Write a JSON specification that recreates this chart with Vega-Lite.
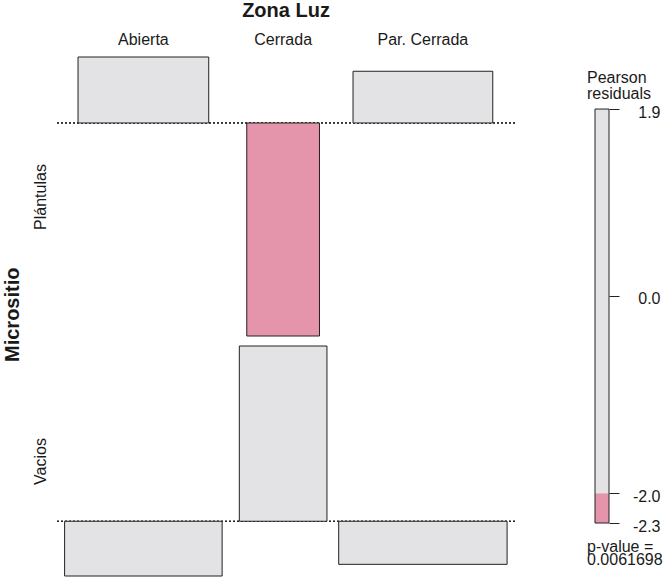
{
  "$schema": "https://vega.github.io/schema/vega-lite/v6.json",
  "padding": {"left": 2, "top": 1, "right": 0, "bottom": 0},
  "config": {
    "view": {"stroke": null},
    "font": "Liberation Sans",
    "title": {"font": "Liberation Sans", "color": "#1a1a1a"},
    "axis": {
      "labelFont": "Liberation Sans",
      "titleFont": "Liberation Sans",
      "labelColor": "#1a1a1a",
      "titleColor": "#1a1a1a",
      "grid": false,
      "domain": false,
      "ticks": false,
      "tickSize": 0,
      "labels": false
    }
  },
  "datasets": {
    "residuos": [
      {"zona": "Abierta", "micrositio": "Plántulas", "esperado": 17.126, "residuo": 0.713},
      {"zona": "Cerrada", "micrositio": "Plántulas", "esperado": 5.301, "residuo": -2.302},
      {"zona": "Par. Cerrada", "micrositio": "Plántulas", "esperado": 19.573, "residuo": 0.559},
      {"zona": "Abierta", "micrositio": "Vacios", "esperado": 24.874, "residuo": -0.591},
      {"zona": "Cerrada", "micrositio": "Vacios", "esperado": 7.699, "residuo": 1.892},
      {"zona": "Par. Cerrada", "micrositio": "Vacios", "esperado": 28.427, "residuo": -0.465}
    ],
    "sombreado": [
      {"desde": -2.302, "hasta": -2.0},
      {"desde": -2.0, "hasta": 1.892}
    ]
  },
  "bounds": "flush",
  "spacing": 538,
  "resolve": {"scale": {"color": "shared", "y": "independent"}},
  "hconcat": [
    {
      "data": {"name": "residuos"},
      "title": {
        "text": "Micrositio",
        "orient": "left",
        "anchor": "middle",
        "fontSize": 20,
        "fontWeight": "bold",
        "offset": 9,
        "dx": -26
      },
      "bounds": "flush",
      "spacing": 10,
      "resolve": {"scale": {"color": "shared", "size": "shared", "x": "shared", "y": "independent"}},
      "vconcat": [
        {
          "title": {"text": "Zona Luz", "fontSize": 20, "fontWeight": "bold", "anchor": "middle", "offset": 10},
          "width": 458,
          "height": 279,
          "transform": [{"filter": "datum.micrositio === 'Plántulas'"}],
          "layer": [
            {
              "mark": {"type": "rule", "strokeDash": [2, 2], "color": "#222222", "strokeWidth": 1},
              "encoding": {
                "y": {
                  "datum": 0,
                  "type": "quantitative",
                  "scale": {"domain": [-2.302, 0.713], "nice": false, "zero": false},
                  "axis": {"title": "Plántulas", "titleFontSize": 16, "titleFontWeight": "normal", "titlePadding": 9}
                }
              }
            },
            {
              "mark": {"type": "bar", "stroke": "#222222", "strokeWidth": 1},
              "encoding": {
                "x": {
                  "field": "zona",
                  "type": "nominal",
                  "sort": ["Abierta", "Cerrada", "Par. Cerrada"],
                  "scale": {"paddingInner": 0, "paddingOuter": 0.1385, "align": 0.426},
                  "axis": {"orient": "top", "labels": true, "labelAngle": 0, "labelFontSize": 16, "labelPadding": 10, "title": null}
                },
                "y": {
                  "field": "residuo",
                  "type": "quantitative",
                  "scale": {"domain": [-2.302, 0.713], "nice": false, "zero": false},
                  "axis": {"title": "Plántulas", "titleFontSize": 16, "titleFontWeight": "normal", "titlePadding": 9}
                },
                "size": {
                  "field": "esperado",
                  "type": "quantitative",
                  "scale": {"type": "sqrt", "domain": [0, 30], "range": [0, 173]},
                  "legend": null
                },
                "color": {
                  "field": "residuo",
                  "type": "quantitative",
                  "scale": {"type": "threshold", "domain": [-2, 2], "range": ["#e495ab", "#e3e3e6", "#9fb4e3"]},
                  "legend": null
                }
              }
            }
          ]
        },
        {
          "title": {
            "text": ["p-value =", "0.0061698"],
            "orient": "bottom",
            "anchor": "end",
            "frame": "group",
            "align": "left",
            "baseline": "alphabetic",
            "fontSize": 16,
            "fontWeight": "normal",
            "lineHeight": 13,
            "dx": 72,
            "offset": -24.5
          },
          "width": 458,
          "height": 230,
          "transform": [{"filter": "datum.micrositio === 'Vacios'"}],
          "layer": [
            {
              "mark": {"type": "rule", "strokeDash": [2, 2], "color": "#222222", "strokeWidth": 1},
              "encoding": {
                "y": {
                  "datum": 0,
                  "type": "quantitative",
                  "scale": {"domain": [-0.591, 1.892], "nice": false, "zero": false},
                  "axis": {"title": "Vacios", "titleFontSize": 16, "titleFontWeight": "normal", "titlePadding": 9}
                }
              }
            },
            {
              "mark": {"type": "bar", "stroke": "#222222", "strokeWidth": 1},
              "encoding": {
                "x": {
                  "field": "zona",
                  "type": "nominal",
                  "sort": ["Abierta", "Cerrada", "Par. Cerrada"],
                  "scale": {"paddingInner": 0, "paddingOuter": 0.1385, "align": 0.426},
                  "axis": null
                },
                "y": {
                  "field": "residuo",
                  "type": "quantitative",
                  "scale": {"domain": [-0.591, 1.892], "nice": false, "zero": false},
                  "axis": {"title": "Vacios", "titleFontSize": 16, "titleFontWeight": "normal", "titlePadding": 9}
                },
                "size": {
                  "field": "esperado",
                  "type": "quantitative",
                  "scale": {"type": "sqrt", "domain": [0, 30], "range": [0, 173]},
                  "legend": null
                },
                "color": {
                  "field": "residuo",
                  "type": "quantitative",
                  "scale": {"type": "threshold", "domain": [-2, 2], "range": ["#e495ab", "#e3e3e6", "#9fb4e3"]},
                  "legend": null
                }
              }
            }
          ]
        }
      ]
    },
    {
      "data": {"name": "sombreado"},
      "title": {
        "text": ["Pearson", "residuals"],
        "anchor": "start",
        "frame": "group",
        "align": "left",
        "baseline": "alphabetic",
        "fontSize": 16,
        "fontWeight": "normal",
        "lineHeight": 16,
        "dx": -8,
        "dy": 33.5,
        "offset": -24.5
      },
      "width": 14,
      "height": 466,
      "layer": [
        {
          "mark": {"type": "rect"},
          "encoding": {
            "y": {
              "field": "desde",
              "type": "quantitative",
              "scale": {"domain": [-2.302, 2.419], "nice": false, "zero": false},
              "axis": {
                "orient": "right",
                "title": null,
                "values": [-2.302, -2.0, 0, 1.892],
                "labelExpr": "replace(format(datum.value, '.1f'), '\u2212', '-')",
                "labels": true,
                "ticks": true,
                "tickSize": 10,
                "tickColor": "#222222",
                "tickWidth": 1,
                "labelFontSize": 16,
                "labelAlign": "right",
                "labelBaseline": "middle",
                "labelPadding": 41,
                "labelOffset": 3,
                "labelOverlap": false,
                "labelFlush": false
              }
            },
            "y2": {"field": "hasta"},
            "color": {
              "field": "desde",
              "type": "quantitative",
              "scale": {"type": "threshold", "domain": [-2, 2], "range": ["#e495ab", "#e3e3e6", "#9fb4e3"]},
              "legend": null
            }
          }
        },
        {
          "mark": {"type": "rect", "filled": false, "color": "#222222", "strokeWidth": 1},
          "encoding": {
            "y": {"aggregate": "min", "field": "desde", "type": "quantitative"},
            "y2": {"aggregate": "max", "field": "hasta"}
          }
        }
      ]
    }
  ]
}
